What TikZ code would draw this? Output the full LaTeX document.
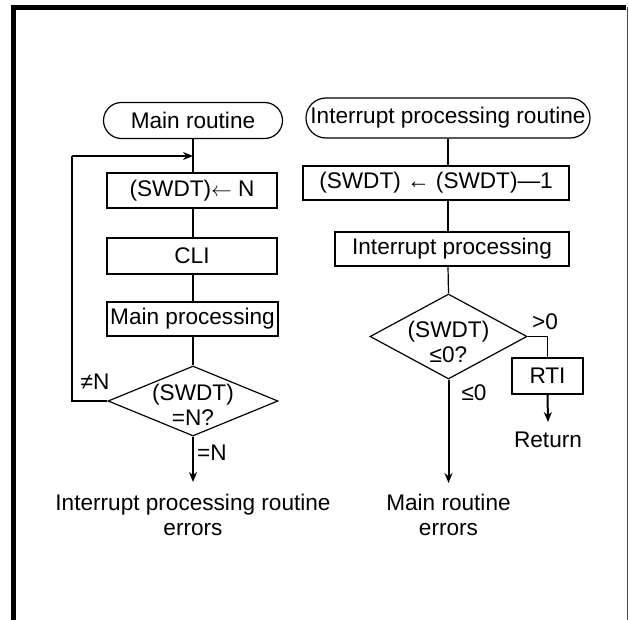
\documentclass[tikz,border=0pt]{standalone}
\usepackage{fontspec}
\setmainfont{Liberation Sans}
\usetikzlibrary{arrows.meta,shapes.geometric}
\begin{document}
\begin{tikzpicture}[x=1bp,y=-1bp,
  every node/.style={font=\fontsize{22.6bp}{25bp}\selectfont, inner sep=0pt, align=center},
  box/.style={draw, line width=1.2bp, rectangle},
  term/.style={draw, line width=1.2bp, rectangle},
  dia/.style={draw, line width=1.2bp, diamond},
  thin/.style={line width=1.2bp},
  flow/.style={line width=2bp, -{Stealth[length=10bp,width=8bp]}},
]
\useasboundingbox (0,0) rectangle (629,620);
% frame
\draw[line width=5bp] (13.5,620) -- (13.5,7.5) -- (626,7.5);
\draw[line width=1.5bp, black!70] (627.5,7.5) -- (627.5,620);

% left column
\node[term, rounded corners=18bp, minimum width=179bp, minimum height=36bp] (mr) at (193,120.5) {Main routine};
\node[box, minimum width=170bp, minimum height=35bp] (b1) at (192,190.5) {(SWDT)$\leftarrow$ N};
\node[box, minimum width=170bp, minimum height=36bp] (b2) at (192,256) {CLI};
\node[box, minimum width=171bp, minimum height=34bp] (b3) at (192.5,319) {Main processing};
\node[dia, minimum width=170bp, minimum height=70bp] (d1) at (193,401) {};
\node (d1t) at (193,405) {(SWDT)\\=N?};
\coordinate (lp) at (72,156);
\coordinate (e1) at (193,482);
\node (err1) at (193,515) {Interrupt processing routine\\errors};
\node (neq) at (95,382) {≠N};
\node (eqn) at (212,453) {=N};

\draw[thin] (mr.south) -- (mr.south |- b1.north);
\draw[thin] (mr.south |- b1.south) -- (mr.south |- b2.north);
\draw[thin] (mr.south |- b2.south) -- (mr.south |- b3.north);
\draw[thin] (mr.south |- b3.south) -- (d1.north);
\draw[line width=1.2bp] (d1.west) -| (lp);
\draw[flow] (lp) -- (lp -| mr.south);
\draw[flow] (d1.south) -- (e1);

% right column
\node[term, rounded corners=20bp, minimum width=284bp, minimum height=40bp] (ir) at (448,118) {Interrupt processing routine};
\node[box, minimum width=266bp, minimum height=34bp] (r1) at (436,183) {(SWDT) ← (SWDT)—1};
\node[box, minimum width=234bp, minimum height=34bp] (r2) at (452,249) {Interrupt processing};
\node[dia, minimum width=157bp, minimum height=85bp] (d2) at (448.5,336.5) {};
\node (d2t) at (448.5,342) {(SWDT)\\≤0?};
\node[box, minimum width=71bp, minimum height=36bp] (rti) at (547.5,376) {RTI};
\coordinate (e3) at (548,422);
\node (ret) at (548,440) {Return};
\coordinate (e2) at (448.5,483);
\node (err2) at (448.5,515) {Main routine\\errors};
\node (gt) at (545,322) {>0};
\node (le) at (474,393) {≤0};

\draw[thin] (ir.south) -- (ir.south |- r1.north);
\draw[thin] (ir.south |- r1.south) -- (ir.south |- r2.north);
\draw[thin] (ir.south |- r2.south) -- (d2.north);
\draw[thin] (d2.east) -| (rti.north);
\draw[flow] (rti.south) -- (e3);
\draw[flow] (d2.south) -- (e2);
\end{tikzpicture}
\end{document}
